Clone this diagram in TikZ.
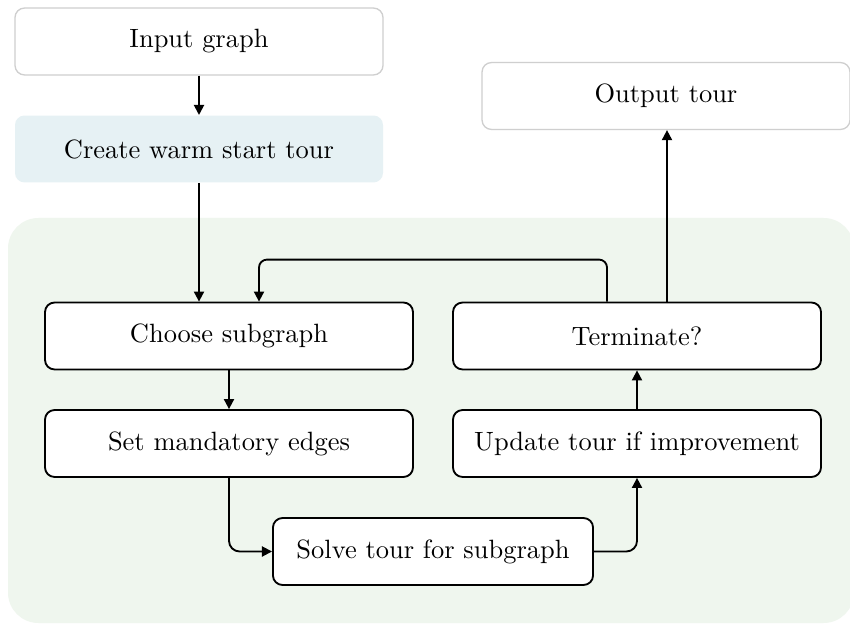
\documentclass[tikz,border=0pt]{standalone}
\usetikzlibrary{arrows.meta,calc}
\definecolor{warmfill}{HTML}{E6F1F4}
\definecolor{loopfill}{HTML}{EFF6EE}
\definecolor{lightframe}{HTML}{CFCFCF}
\begin{document}
\begin{tikzpicture}[x=0.378pt,y=-0.378pt,
  box/.style={rectangle,rounded corners=3.6pt,minimum width=139.1pt,minimum height=25.3pt,inner sep=0pt},
  plainbox/.style={box,draw=lightframe,line width=0.5pt,fill=white},
  stepbox/.style={box,draw=black,line width=0.7pt,fill=white},
  flow/.style={line width=0.7pt,-{Triangle[length=3.8pt,width=3.8pt]}}]
  \clip (0,0) rectangle (850,624);
  \fill[white] (0,0) rectangle (850,624);
  % iteration region
  \fill[loopfill,rounded corners=11.5pt] (8,218) rectangle (854,623);
  % nodes
  \node[plainbox] (inp) at (199,41.5) {Input graph};
  \node[box,fill=warmfill] (warm) at (199,149) {Create warm start tour};
  \node[plainbox] (out) at (666,96) {Output tour};
  \node[stepbox] (choose) at (229,336) {Choose subgraph};
  \node[stepbox] (setm) at (229,443.5) {Set mandatory edges};
  \node[stepbox] (term) at (637,336) {Terminate?};
  \node[stepbox] (upd) at (637,443.5) {Update tour if improvement};
  \node[stepbox,minimum width=121pt] (solve) at (433,551.5) {Solve tour for subgraph};
  % connectors
  \draw[flow] (inp) -- (warm);
  \draw[flow] (warm.south) -- (warm.south |- choose.north);
  \coordinate (loopstart) at ($(term.north)+(-30,0)$);
  \coordinate (loopend) at ($(choose.north)+(30,0)$);
  \draw[flow,rounded corners=3pt] (loopstart) -- ($(loopstart)+(0,-42)$) -- ($(loopend)+(0,-42)$) -- (loopend);
  \coordinate (exitstart) at ($(term.north)+(30,0)$);
  \draw[flow] (exitstart) -- (exitstart |- out.south);
  \draw[flow] (choose) -- (setm);
  \draw[flow,rounded corners=4pt] (setm.south) |- (solve.west);
  \draw[flow,rounded corners=4pt] (solve.east) -| (upd.south);
  \draw[flow] (upd) -- (term);
\end{tikzpicture}
\end{document}
